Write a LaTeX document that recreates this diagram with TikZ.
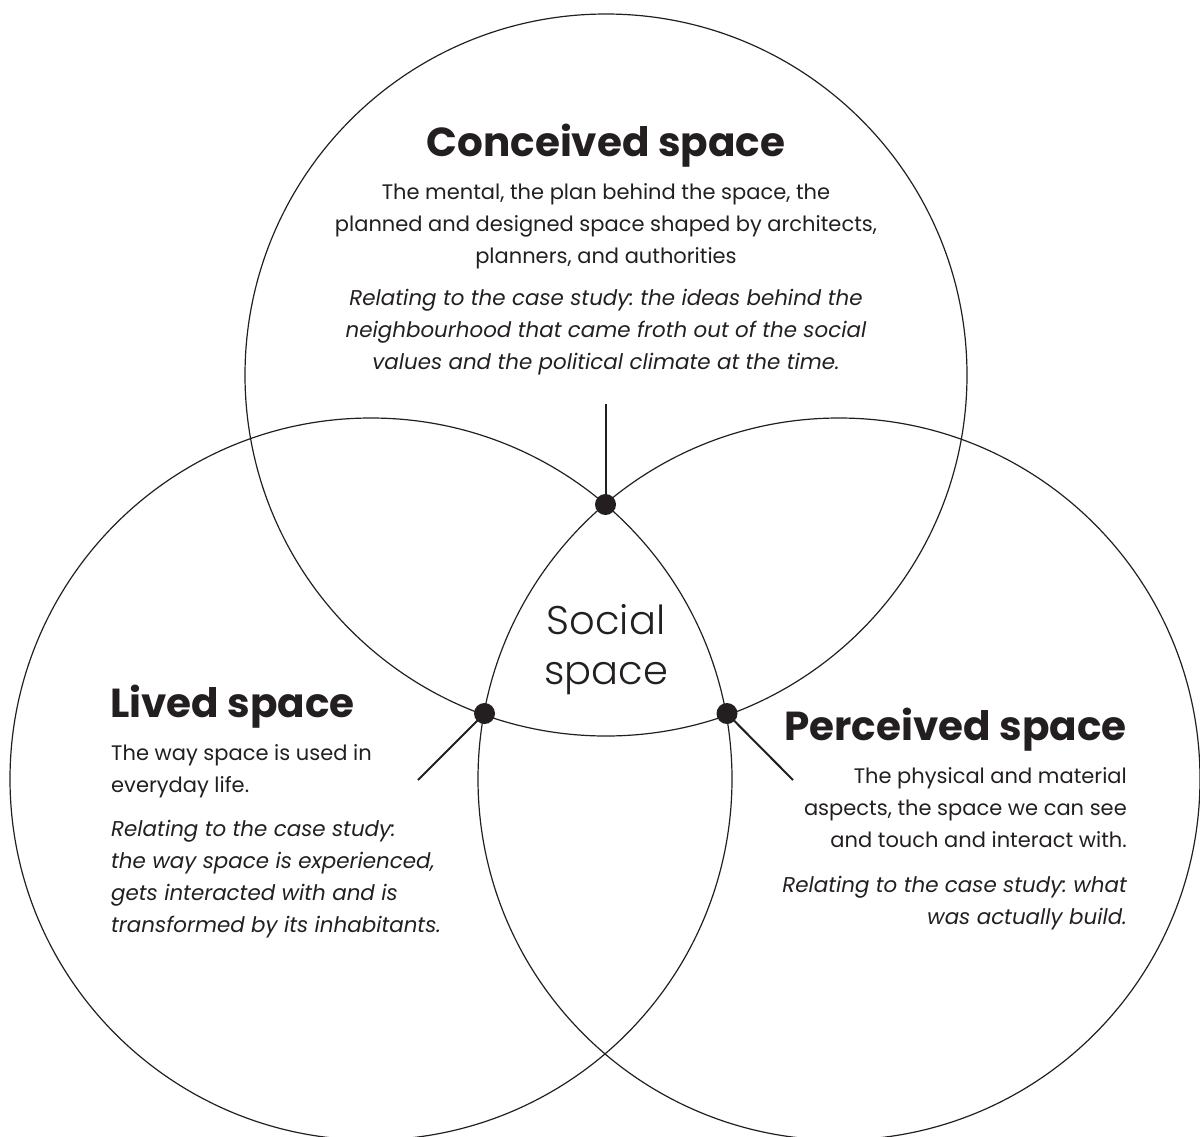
\documentclass[tikz,border=0pt]{standalone}
\usepackage{fontspec}
\setmainfont{Poppins}
\newfontfamily\lightfont{Poppins Light}
\usetikzlibrary{calc}
\definecolor{ink}{HTML}{231F20}
\frenchspacing
\begin{document}
\begin{tikzpicture}[x=1pt,y=-1pt,
  ring/.style={draw=ink, line width=1.2pt},
  stem/.style={draw=ink, line width=2pt},
  joint/.style={circle, fill=ink, inner sep=0pt, minimum size=21pt},
  heading/.style={font=\fontsize{40.5}{46}\selectfont\bfseries, text=ink, inner sep=0pt},
  para/.style={font=\fontsize{21}{32}\selectfont, text=ink, inner sep=0pt},
  note/.style={font=\fontsize{21.4}{32}\selectfont\itshape, text=ink, inner sep=0pt},
  centre/.style={font=\lightfont\fontsize{40}{50}\selectfont, text=ink, inner sep=0pt}
]
\useasboundingbox (0,0) rectangle (1200,1136);
\clip (0,0) rectangle (1200,1136);

% the three overlapping circles
\draw[ring] (606,375) circle[radius=361pt];
\draw[ring] (371,779) circle[radius=361pt];
\draw[ring] (839,779) circle[radius=361pt];

% intersection points and the stems leading out of them
\coordinate (ptop) at (605.5,504.5);
\coordinate (pleft) at (484.5,713.5);
\coordinate (pright) at (727,713.5);
\coordinate (etop) at (605.5,404);
\coordinate (eleft) at (418,780);
\coordinate (eright) at (793,780);
\draw[stem] (ptop) -- (etop);
\draw[stem] (pleft) -- (eleft);
\draw[stem] (pright) -- (eright);
\node[joint] (jtop) at (ptop) {};
\node[joint] (jleft) at (pleft) {};
\node[joint] (jright) at (pright) {};

% conceived space
\node[heading, anchor=base] (ctitle) at (606,156) {Conceived space};
\node[para, anchor=base] (cbody) at (606,199) {\parbox[t]{680pt}{\centering
  The mental, the plan behind the space, the\\
  planned and designed space shaped by architects,\\
  planners, and authorities}};
\node[note, anchor=base] (cnote) at (606,305) {\parbox[t]{680pt}{\centering
  Relating to the case study: the ideas behind the\\
  neighbourhood that came froth out of the social\\
  values and the political climate at the time.}};

% social space
\node[centre, anchor=base] (social) at (606,634) {\parbox[t]{240pt}{\centering Social\\space}};

% lived space
\node[heading, anchor=base west] (ltitle) at (110,717) {Lived space};
\node[para, anchor=base west] (lbody) at (111,760) {\parbox[t]{420pt}{\raggedright
  The way space is used in\\
  everyday life.}};
\node[note, anchor=base west] (lnote) at (111,836) {\parbox[t]{420pt}{\raggedright
  Relating to the case study:\\
  the way space is experienced,\\
  gets interacted with and is\\
  transformed by its inhabitants.}};

% perceived space
\node[heading, anchor=base east] (ptitle) at (1127,740) {Perceived space};
\node[para, anchor=base east] (pbody) at (1127,783) {\parbox[t]{420pt}{\raggedleft
  The physical and material\\
  aspects, the space we can see\\
  and touch and interact with.}};
\node[note, anchor=base east] (pnote) at (1127,892) {\parbox[t]{420pt}{\raggedleft
  Relating to the case study: what\\
  was actually build.}};
\end{tikzpicture}
\end{document}
